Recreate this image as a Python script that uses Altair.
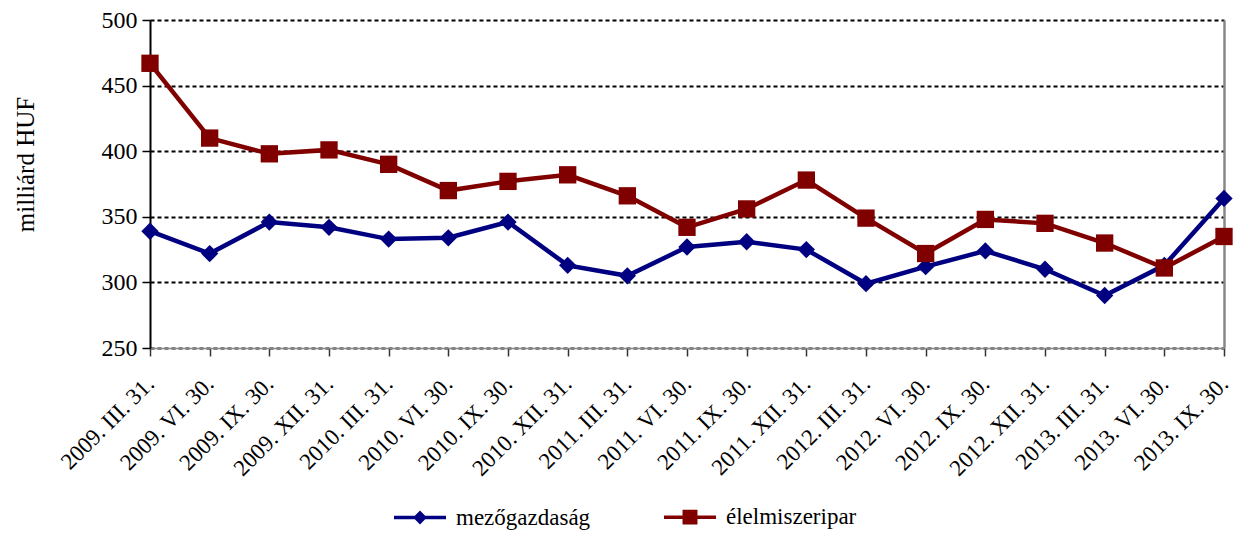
import altair as alt
import pandas as pd

dates = ["2009. III. 31.", "2009. VI. 30.", "2009. IX. 30.", "2009. XII. 31.",
         "2010. III. 31.", "2010. VI. 30.", "2010. IX. 30.", "2010. XII. 31.",
         "2011. III. 31.", "2011. VI. 30.", "2011. IX. 30.", "2011. XII. 31.",
         "2012. III. 31.", "2012. VI. 30.", "2012. IX. 30.", "2012. XII. 31.",
         "2013. III. 31.", "2013. VI. 30.", "2013. IX. 30."]
mezogazdasag = [339, 322, 346, 342, 333, 334, 346, 313, 305, 327, 331, 325,
                299, 312, 324, 310, 290, 313, 364]
elelmiszeripar = [467, 410, 398, 401, 390, 370, 377, 382, 366, 342, 356, 378,
                  349, 322, 348, 345, 330, 311, 335]
series_names = ["mezőgazdaság", "élelmiszeripar"]
series_colors = ["#000080", "#800000"]
y_ticks = [250, 300, 350, 400, 450, 500]

rows = []
for d, a, b in zip(dates, mezogazdasag, elelmiszeripar):
    rows.append({"date": d, "series": series_names[0], "value": a})
    rows.append({"date": d, "series": series_names[1], "value": b})
df = pd.DataFrame(rows)

FONT = "Liberation Serif"
color_scale = alt.Scale(domain=series_names, range=series_colors)
y_scale = alt.Scale(domain=[250, 500], nice=False, zero=False)

x_enc = alt.X("date:N", sort=dates, scale=alt.Scale(type="point", padding=0),
              axis=alt.Axis(title=None, labelAngle=-45, labelAlign="right",
                            labelBaseline="middle", labelFont=FONT, labelFontSize=23,
                            labelColor="black", labelPadding=24, tickSize=8,
                            tickColor="#333", tickWidth=1.5, domainColor="#888",
                            domainWidth=1.5, grid=False, labelOverlap=False,
                            labelBound=False))
y_enc = alt.Y("value:Q", scale=y_scale,
              axis=alt.Axis(title="milliárd HUF", values=y_ticks, titleFont=FONT,
                            titleFontSize=25, titleFontWeight="normal", titleColor="black",
                            titleAngle=-90, titleX=-125, titleY=144, titleAlign="center",
                            titleBaseline="middle",
                            labelFont=FONT, labelFontSize=24, labelColor="black",
                            labelPadding=5, tickSize=8, tickColor="black", tickWidth=1.5,
                            domainColor="black", domainWidth=2, grid=True,
                            gridColor="black", gridDash=[4, 3], gridWidth=2))

base = alt.Chart(df)

# legend symbols: a line with the series marker drawn on it (concentric strokes fill the marker)
diamond_path = ("M-1,0H1M0,-0.17L0.17,0L0,0.17L-0.17,0Z"
                "M0,-0.11L0.11,0L0,0.11L-0.11,0ZM0,-0.05L0.05,0L0,0.05L-0.05,0Z")
square_path = ("M-1,0H1M-0.22,-0.22H0.22V0.22H-0.22Z"
               "M-0.15,-0.15H0.15V0.15H-0.15ZM-0.08,-0.08H0.08V0.08H-0.08Z")
symbol_expr = ("datum.value === '" + series_names[0] + "' ? '" + diamond_path
               + "' : '" + square_path + "'")

leg_props = dict(title=None, orient="none", legendX=242, legendY=469,
                 direction="horizontal", columnPadding=66,
                 labelFont=FONT, labelFontSize=23, labelColor="black",
                 labelOffset=8, symbolSize=2704, symbolStrokeWidth=3.5,
                 symbolType=alt.ExprRef(expr=symbol_expr))

lines = base.mark_line(strokeWidth=4.5).encode(
    x=x_enc, y=y_enc,
    color=alt.Color("series:N", scale=color_scale, legend=alt.Legend(**leg_props)),
    detail="series:N",
)

pts_a = base.transform_filter(alt.datum.series == series_names[0]).mark_point(
    shape="diamond", filled=True, size=300, opacity=1).encode(
    x=alt.X("date:N", sort=dates), y=alt.Y("value:Q", axis=None),
    color=alt.Color("series:N", scale=color_scale))

pts_b = base.transform_filter(alt.datum.series == series_names[1]).mark_point(
    shape="square", filled=True, size=300, opacity=1).encode(
    x=alt.X("date:N", sort=dates), y=alt.Y("value:Q", axis=None),
    color=alt.Color("series:N", scale=color_scale))

right_border = base.mark_point(opacity=0).encode(
    x=alt.X("date:N", sort=dates),
    y=alt.Y("value:Q", axis=alt.Axis(orient="right", labels=False, ticks=False,
                                     grid=False, title=None, domainColor="#888",
                                     domainWidth=2.5)),
)

chart = alt.layer(lines, pts_a, pts_b, right_border).resolve_axis(
    y="independent"
).properties(
    width=1074, height=328,
    autosize=alt.AutoSizeParams(type="none"),
    padding={"left": 142, "top": 12, "right": 10, "bottom": 182},
    background="white",
).configure_view(stroke=None)

chart.save("out.html", embed_options={"renderer": "svg", "actions": False})
